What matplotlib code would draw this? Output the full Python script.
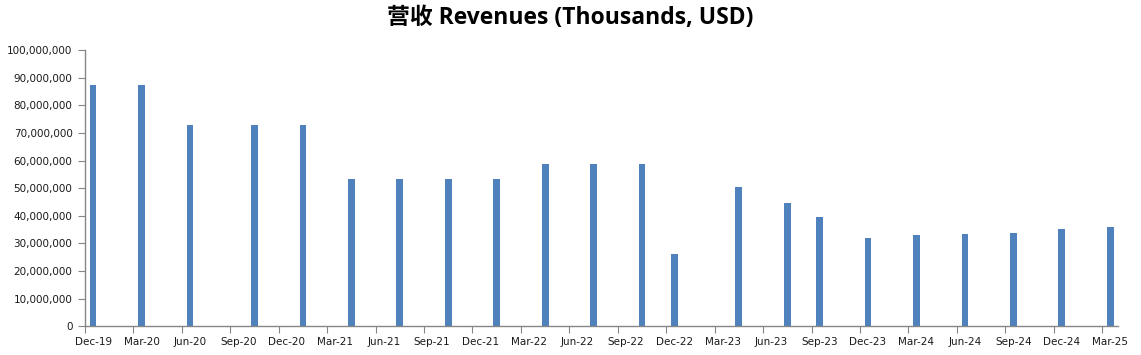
import matplotlib
matplotlib.use("Agg")
import matplotlib.pyplot as plt
from matplotlib.ticker import FuncFormatter, MultipleLocator

# Period months (YYYY-MM) and revenue values (thousands USD)
periods = ["2019-12", "2020-03", "2020-06", "2020-10", "2021-01", "2021-04",
           "2021-07", "2021-10", "2022-01", "2022-04", "2022-07", "2022-10",
           "2022-12", "2023-04", "2023-07", "2023-09", "2023-12", "2024-03",
           "2024-06", "2024-09", "2024-12", "2025-03"]
revenues = [87.4e6, 87.4e6, 72.9e6, 72.9e6, 72.9e6, 53.4e6,
            53.3e6, 53.3e6, 53.3e6, 58.7e6, 58.7e6, 58.7e6,
            26.2e6, 50.4e6, 44.6e6, 39.6e6, 32.0e6, 33.0e6,
            33.4e6, 33.8e6, 35.2e6, 36.0e6]
tick_labels = ["Dec-19", "Mar-20", "Jun-20", "Sep-20", "Dec-20", "Mar-21",
               "Jun-21", "Sep-21", "Dec-21", "Mar-22", "Jun-22", "Sep-22",
               "Dec-22", "Mar-23", "Jun-23", "Sep-23", "Dec-23", "Mar-24",
               "Jun-24", "Sep-24", "Dec-24", "Mar-25"]
title = "营收 Revenues (Thousands, USD)"

start_y, start_m = 2019, 12


def month_index(p):
    y, m = map(int, p.split("-"))
    return (y - start_y) * 12 + (m - start_m)


x = [month_index(p) + 0.5 for p in periods]
n_months = month_index("2025-03") + 1

fig = plt.figure(figsize=(11.41, 3.55), dpi=100)
ax = fig.add_axes([0.0745, 0.0808, 0.9056, 0.7784])

ax.bar(x, revenues, width=0.42, color="#4F81BD", zorder=2)

ax.set_xlim(0, n_months)
ax.set_ylim(0, 100e6)

ax.yaxis.set_major_locator(MultipleLocator(10e6))
ax.yaxis.set_major_formatter(FuncFormatter(lambda v, p: f"{int(round(v)):,}"))

major = list(range(0, n_months, 3))
ax.set_xticks(major)
ax.set_xticklabels([])
ax.set_xticks([m + 0.5 for m in major], minor=True)
ax.set_xticklabels(tick_labels, minor=True)

for s in ["top", "right"]:
    ax.spines[s].set_visible(False)
for s in ["left", "bottom"]:
    ax.spines[s].set_color("#868686")
    ax.spines[s].set_linewidth(1.0)

ax.tick_params(axis="y", which="major", length=5, color="#868686",
               labelsize=7.5, labelcolor="#1a1a1a", pad=4)
ax.tick_params(axis="x", which="major", length=5, color="#868686",
               direction="out")
ax.tick_params(axis="x", which="minor", length=0, labelsize=7.5,
               labelcolor="#1a1a1a", pad=8)

fig.text(0.5, 0.948, title, ha="center", va="center", fontsize=16.5,
         fontweight="bold", family=["Open Sans", "Noto Sans CJK SC", "DejaVu Sans"])

fig.savefig("out.png", dpi=100)
